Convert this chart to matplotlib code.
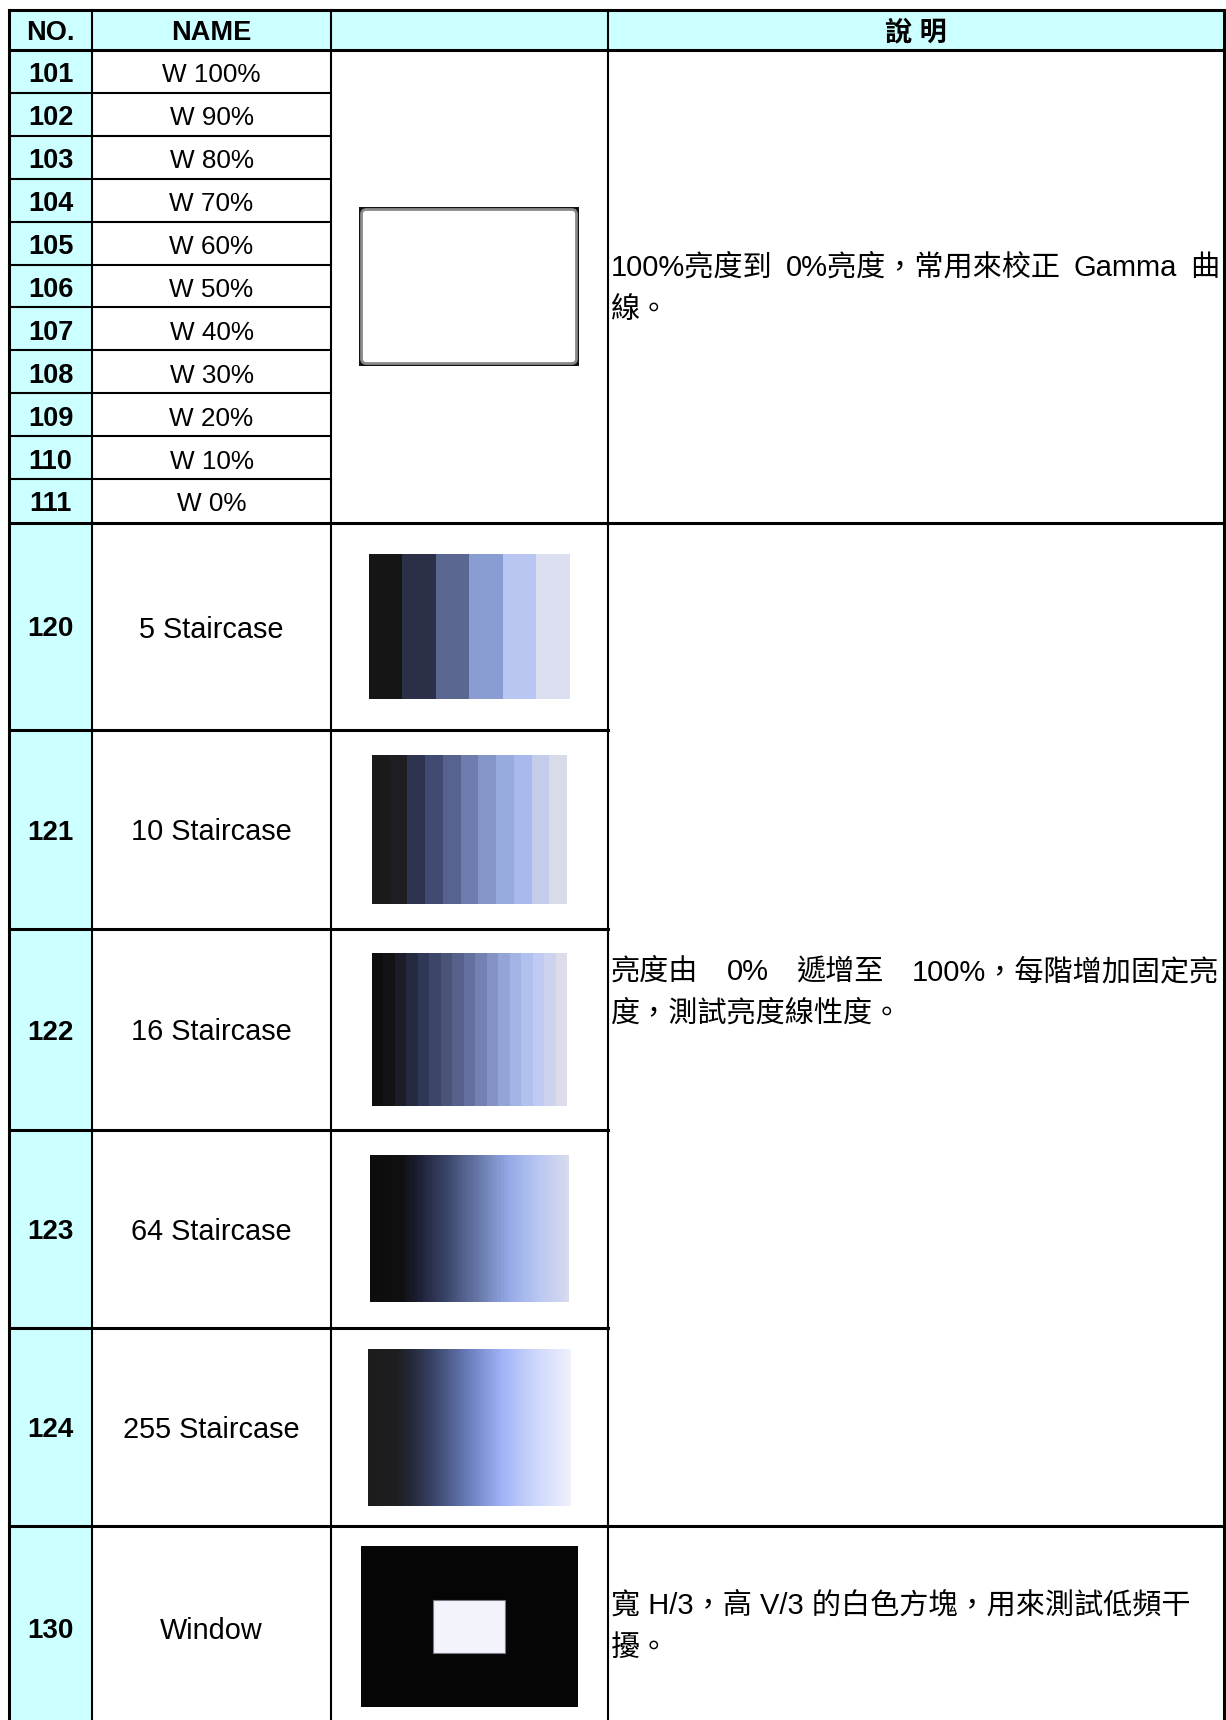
import matplotlib
matplotlib.use("Agg")
import matplotlib.pyplot as plt
import numpy as np
from matplotlib.colors import to_rgb, LinearSegmentedColormap
from matplotlib.patches import Rectangle, FancyBboxPatch

# ---- table content ----
headers = ["NO.", "NAME", "", "說 明"]

white_nos = ["101", "102", "103", "104", "105", "106", "107", "108", "109", "110", "111"]
white_names = ["W 100%", "W 90%", "W 80%", "W 70%", "W 60%", "W 50%",
               "W 40%", "W 30%", "W 20%", "W 10%", "W 0%"]

stair_nos = ["120", "121", "122", "123", "124"]
stair_names = ["5 Staircase", "10 Staircase", "16 Staircase", "64 Staircase", "255 Staircase"]

window_no = "130"
window_name = "Window"

desc_white = ["100%亮度到 0%亮度，常用來校正 Gamma 曲", "線。"]
desc_stair = ["亮度由 0% 遞增至 100%，每階增加固定亮", "度，測試亮度線性度。"]
desc_window = ["寬 H/3，高 V/3 的白色方塊，用來測試低頻干", "擾。"]

# colours of the pattern thumbnails
stair5 = ["#151515", "#2b3048", "#5a6791", "#8a9dd2", "#b9c6f2", "#dcdff0"]
stair10 = ["#1a1a1a", "#1e1e22", "#2e3450", "#414a70", "#58628e", "#6f7dae",
           "#8495c8", "#98abdf", "#a9b9ee", "#c3cdea", "#d8dbe8"]
stair16 = ["#0e0e0e", "#131316", "#1c1d28", "#262a40", "#303857", "#3d4568",
           "#4a5479", "#56628c", "#64709d", "#7482b3", "#8393c4", "#93a5d6",
           "#a2b4e3", "#b0c1ee", "#bfcbf2", "#cdd3ef", "#dcdcea"]
grad64_stops = [(0.0, "#0d0d0d"), (0.16, "#101013"), (0.24, "#1d2036"),
                (0.38, "#3a4468"), (0.52, "#60709f"), (0.7, "#95a9e6"),
                (0.85, "#b9c6f3"), (1.0, "#d8dbee")]
grad255_stops = [(0.0, "#1c1c1c"), (0.14, "#1f1f22"), (0.22, "#262a3c"),
                 (0.32, "#3a4468"), (0.5, "#6b7fbf"), (0.66, "#a0b3f7"),
                 (0.82, "#cbd6fb"), (1.0, "#f0f1fb")]

# ---- layout (pixels) ----
W, H = 1226, 1720
col_x = [9, 92, 331, 608, 1224]
head_y = (10, 50)
row_h = 42.9
big_y = [523, 730, 929, 1130, 1328, 1526, 1722]
cyan = "#ccffff"
FONT = ["Liberation Sans", "Noto Sans CJK TC", "DejaVu Sans"]

fig = plt.figure(figsize=(W / 100, H / 100), dpi=100)
ax = fig.add_axes([0, 0, 1, 1])
ax.set_xlim(0, W)
ax.set_ylim(H, 0)
ax.axis("off")

# backgrounds
ax.add_patch(Rectangle((col_x[0], head_y[0]), col_x[-1] - col_x[0], head_y[1] - head_y[0],
                       facecolor=cyan, edgecolor="none"))
ax.add_patch(Rectangle((col_x[0], head_y[1]), col_x[1] - col_x[0], H - head_y[1],
                       facecolor=cyan, edgecolor="none"))

thin, thick = 1.5, 2.2
def hline(y, x0, x1, lw=thin):
    ax.plot([x0, x1], [y, y], color="black", lw=lw, solid_capstyle="projecting")
def vline(x, y0, y1, lw=thin):
    ax.plot([x, x], [y0, y1], color="black", lw=lw, solid_capstyle="projecting")

# grid
hline(head_y[0], col_x[0], col_x[-1], thick)
hline(head_y[1], col_x[0], col_x[-1], thick)
for i in range(1, len(white_nos)):
    hline(head_y[1] + row_h * i, col_x[0], col_x[2])
hline(big_y[0], col_x[0], col_x[-1], thick)
for y in big_y[1:5]:
    hline(y, col_x[0], col_x[3], thick)
hline(big_y[5], col_x[0], col_x[-1], thick)
vline(col_x[0], head_y[0], H, thick)
vline(col_x[-1], head_y[0], H, thick)
for x in col_x[1:4]:
    vline(x, head_y[0], H)

# header text
def cx(i):
    return (col_x[i] + col_x[i + 1]) / 2
for i, h in enumerate(headers):
    if h:
        ax.text(cx(i), 33, h, ha="center", va="center", fontsize=19.5,
                fontweight="bold", family=FONT)

# W rows
for i, (n, nm) in enumerate(zip(white_nos, white_names)):
    yc = head_y[1] + row_h * (i + 0.5) + 4
    ax.text(cx(0), yc, n, ha="center", va="center", fontsize=19.5, fontweight="bold", family=FONT)
    ax.text(cx(1), yc, nm, ha="center", va="center", fontsize=18.8, family=FONT)

# staircase + window rows
big_nos = stair_nos + [window_no]
big_names = stair_names + [window_name]
for i, (n, nm) in enumerate(zip(big_nos, big_names)):
    y1 = big_y[i + 1] if i < 5 else big_y[5] + 204
    yc = (big_y[i] + y1) / 2 + 3
    ax.text(cx(0), yc, n, ha="center", va="center", fontsize=20, fontweight="bold", family=FONT)
    ax.text(cx(1), yc, nm, ha="center", va="center", fontsize=20.8, family=FONT)

# white frame thumbnail
ax.add_patch(Rectangle((359, 207), 220, 159, facecolor="#111111", edgecolor="none"))
ax.add_patch(FancyBboxPatch((361.5, 209.5), 215, 154, boxstyle="round,pad=0,rounding_size=5",
                            facecolor="white", edgecolor="#8a8a8a", lw=2.0))

# staircase thumbnails
def bars(colors, box):
    img = np.array([[to_rgb(c) for c in colors]])
    x0, x1, y0, y1 = box
    ax.imshow(img, extent=(x0, x1, y1, y0), interpolation="nearest", aspect="auto", zorder=2)

def ramp(stops, steps, box, name):
    cmap = LinearSegmentedColormap.from_list(name, stops, N=steps)
    x0, x1, y0, y1 = box
    ax.imshow(np.arange(steps)[None, :], cmap=cmap, extent=(x0, x1, y1, y0),
              interpolation="nearest", aspect="auto", zorder=2)

bars(stair5, (369, 570, 554, 699))
bars(stair10, (372, 567, 755, 904))
bars(stair16, (372, 567, 953, 1106))
ramp(grad64_stops, 64, (370, 569, 1155, 1302), "g64")
ramp(grad255_stops, 255, (368, 571, 1349, 1506), "g255")

# window thumbnail
ax.add_patch(Rectangle((361, 1546), 217, 161, facecolor="#050505", edgecolor="none"))
ax.add_patch(Rectangle((433, 1600), 72, 53, facecolor="#f3f3fb", edgecolor="#777788", lw=0.8))

# description text, justified by widening spaces
renderer = fig.canvas.get_renderer()
DX0, DX1 = 611, 1219
DFS = 21
def desc_line(y, s, justify):
    parts = s.split(" ")
    if not justify or len(parts) == 1:
        ax.text(DX0, y, s, ha="left", va="center", fontsize=DFS, family=FONT)
        return
    ts = [ax.text(0, y, p, ha="left", va="center", fontsize=DFS, family=FONT) for p in parts]
    ws = [t.get_window_extent(renderer).width for t in ts]
    gap = (DX1 - DX0 - sum(ws)) / (len(parts) - 1)
    x = DX0
    for t, w in zip(ts, ws):
        t.set_x(x)
        x += w + gap

for lines, y0, just in [(desc_white, 268, True), (desc_stair, 972, True), (desc_window, 1606, False)]:
    for k, s in enumerate(lines):
        desc_line(y0 + 42 * k, s, just and k == 0)

fig.savefig("out.png", dpi=100)
